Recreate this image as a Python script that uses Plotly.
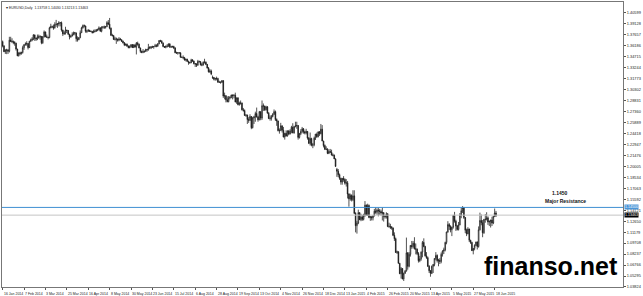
import plotly.graph_objects as go

# ---------------- data (EURUSD daily) ----------------
date_ticks = ["16 Jan 2014", "7 Feb 2014", "3 Mar 2014", "25 Mar 2014", "16 Apr 2014", "8 May 2014",
              "30 May 2014", "23 Jun 2014", "15 Jul 2014", "6 Aug 2014", "28 Aug 2014", "19 Sep 2014",
              "13 Oct 2014", "4 Nov 2014", "26 Nov 2014", "18 Dec 2014", "13 Jan 2015", "4 Feb 2015",
              "26 Feb 2015", "20 Mar 2015", "13 Apr 2015", "5 May 2015", "27 May 2015", "18 Jun 2015"]
date_tick_step = 16  # bars between date labels

price_ticks = [1.40599, 1.39128, 1.37657, 1.36186, 1.34715, 1.33244, 1.31773, 1.30302, 1.28831,
               1.27360, 1.25889, 1.24418, 1.22947, 1.21476, 1.20005, 1.18534, 1.17063, 1.15592,
               1.14121, 1.12650, 1.11179, 1.09708, 1.08237, 1.06766, 1.05295, 1.03824]

opens = [
    1.3675, 1.3615,
    1.3540, 1.3555, 1.3565, 1.3545, 1.3695,
    1.3680, 1.3675, 1.3665, 1.3655, 1.3575,
    1.3485, 1.3525, 1.3515, 1.3530, 1.3595,
    1.3635, 1.3645, 1.3650, 1.3595, 1.3680,
    1.3695, 1.3710, 1.3765, 1.3720, 1.3710,
    1.3740, 1.3735, 1.3745, 1.3660, 1.3740,
    1.3805, 1.3740, 1.3735, 1.3730, 1.3860,
    1.3875, 1.3875, 1.3860, 1.3905, 1.3910,
    1.3910, 1.3925, 1.3930, 1.3830, 1.3780,
    1.3790, 1.3830, 1.3825, 1.3775, 1.3740,
    1.3750, 1.3770, 1.3795, 1.3790, 1.3715,
    1.3700, 1.3730, 1.3795, 1.3860, 1.3890,
    1.3885, 1.3815, 1.3815, 1.3825, 1.3815,
    1.3810, 1.3795, 1.3810, 1.3815, 1.3830,
    1.3835, 1.3860, 1.3815, 1.3870, 1.3870,
    1.3870, 1.3875, 1.3930, 1.3910, 1.3855,
    1.3760, 1.3755, 1.3705, 1.3710, 1.3710,
    1.3695, 1.3710, 1.3700, 1.3680, 1.3660,
    1.3630, 1.3640, 1.3615, 1.3595, 1.3605,
    1.3635, 1.3595, 1.3630, 1.3600, 1.3655,
    1.3640, 1.3590, 1.3545, 1.3530, 1.3545,
    1.3545, 1.3570, 1.3565, 1.3595, 1.3590,
    1.3605, 1.3605, 1.3610, 1.3620, 1.3615,
    1.3645, 1.3690, 1.3680, 1.3655, 1.3610,
    1.3600, 1.3610, 1.3615, 1.3645, 1.3605,
    1.3605, 1.3610, 1.3590, 1.3525, 1.3525,
    1.3525, 1.3525, 1.3465, 1.3465, 1.3460,
    1.3430, 1.3440, 1.3410, 1.3395, 1.3390,
    1.3430, 1.3415, 1.3380, 1.3375, 1.3360,
    1.3410, 1.3405, 1.3365, 1.3360, 1.3400,
    1.3400, 1.3370, 1.3320, 1.3270, 1.3280,
    1.3190, 1.3195, 1.3170, 1.3180, 1.3180,
    1.3130, 1.3130, 1.3130, 1.3150, 1.2945,
    1.2950, 1.2895, 1.2870, 1.2920, 1.2925,
    1.2960, 1.2950, 1.2955, 1.2865, 1.2920,
    1.2830, 1.2850, 1.2850, 1.2760, 1.2750,
    1.2685, 1.2690, 1.2630, 1.2620, 1.2670,
    1.2520, 1.2650, 1.2665, 1.2710, 1.2665,
    1.2625, 1.2735, 1.2650, 1.2815, 1.2810,
    1.2760, 1.2800, 1.2715, 1.2645, 1.2645,
    1.2670, 1.2700, 1.2735, 1.2630, 1.2610,
    1.2480, 1.2480, 1.2545, 1.2485, 1.2395,
    1.2445, 1.2410, 1.2475, 1.2435, 1.2475,
    1.2525, 1.2450, 1.2535, 1.2545, 1.2550,
    1.2390, 1.2440, 1.2470, 1.2505, 1.2465,
    1.2450, 1.2470, 1.2380, 1.2310, 1.2375,
    1.2285, 1.2290, 1.2380, 1.2435, 1.2400,
    1.2465, 1.2440, 1.2500, 1.2340, 1.2280,
    1.2230, 1.2230, 1.2175, 1.2200,
    1.2190, 1.2155, 1.2150, 1.2100,
    1.1960, 1.1935, 1.1890, 1.1840, 1.1790,
    1.1840, 1.1825, 1.1775, 1.1780, 1.1630,
    1.1565, 1.1610, 1.1555, 1.1605, 1.1370,
    1.1205, 1.1240, 1.1380, 1.1285, 1.1320,
    1.1290, 1.1345, 1.1480, 1.1345, 1.1475,
    1.1315, 1.1325, 1.1310, 1.1335, 1.1400,
    1.1385, 1.1415, 1.1405, 1.1395, 1.1375,
    1.1380, 1.1330, 1.1325, 1.1365, 1.1195,
    1.1195, 1.1185, 1.1175, 1.1075, 1.1030,
    1.0845, 1.0855, 1.0700, 1.0560, 1.0630,
    1.0490, 1.0565, 1.0595, 1.0840, 1.0660,
    1.0820, 1.0940, 1.0925, 1.0970, 1.0895,
    1.0890, 1.0830, 1.0735, 1.0760, 1.0850,
    1.0980, 1.0925, 1.0800, 1.0775, 1.0660,
    1.0600, 1.0565, 1.0660, 1.0685, 1.0765,
    1.0805, 1.0735, 1.0740, 1.0725, 1.0820,
    1.0865, 1.0880, 1.0980, 1.1120, 1.1220,
    1.1195, 1.1150, 1.1185, 1.1345, 1.1265,
    1.1200, 1.1155, 1.1215, 1.1345, 1.1405,
    1.1450, 1.1315, 1.1145, 1.1095, 1.1160,
    1.1010, 1.0980, 1.0870, 1.0900, 1.0940,
    1.0985, 1.0925, 1.1150, 1.1275, 1.1245,
    1.1110, 1.1290, 1.1290, 1.1310, 1.1255,
    1.1260, 1.1280, 1.1240, 1.1330, 1.1376,
]

highs = [
    1.3690, 1.3630,
    1.3575, 1.3580, 1.3570, 1.3740, 1.3740,
    1.3720, 1.3690, 1.3680, 1.3660, 1.3580,
    1.3530, 1.3540, 1.3540, 1.3620, 1.3640,
    1.3665, 1.3680, 1.3655, 1.3685, 1.3715,
    1.3735, 1.3775, 1.3770, 1.3730, 1.3770,
    1.3770, 1.3760, 1.3750, 1.3750, 1.3825,
    1.3810, 1.3770, 1.3740, 1.3875, 1.3915,
    1.3890, 1.3905, 1.3935, 1.3967, 1.3925,
    1.3950, 1.3935, 1.3945, 1.3835, 1.3815,
    1.3875, 1.3835, 1.3830, 1.3780, 1.3760,
    1.3800, 1.3810, 1.3805, 1.3800, 1.3745,
    1.3735, 1.3825, 1.3875, 1.3905, 1.3905,
    1.3890, 1.3835, 1.3845, 1.3835, 1.3825,
    1.3820, 1.3835, 1.3840, 1.3845, 1.3850,
    1.3880, 1.3865, 1.3880, 1.3885, 1.3890,
    1.3885, 1.3950, 1.3965, 1.3993, 1.3865,
    1.3780, 1.3765, 1.3740, 1.3730, 1.3715,
    1.3735, 1.3725, 1.3705, 1.3690, 1.3670,
    1.3650, 1.3650, 1.3625, 1.3625, 1.3640,
    1.3640, 1.3640, 1.3645, 1.3670, 1.3675,
    1.3650, 1.3595, 1.3555, 1.3575, 1.3555,
    1.3580, 1.3575, 1.3645, 1.3615, 1.3615,
    1.3620, 1.3615, 1.3645, 1.3640, 1.3655,
    1.3695, 1.3700, 1.3695, 1.3665, 1.3615,
    1.3625, 1.3640, 1.3650, 1.3650, 1.3620,
    1.3620, 1.3620, 1.3600, 1.3540, 1.3535,
    1.3535, 1.3530, 1.3475, 1.3490, 1.3470,
    1.3445, 1.3445, 1.3420, 1.3405, 1.3445,
    1.3440, 1.3420, 1.3385, 1.3385, 1.3430,
    1.3420, 1.3415, 1.3390, 1.3410, 1.3445,
    1.3410, 1.3375, 1.3335, 1.3305, 1.3300,
    1.3220, 1.3200, 1.3190, 1.3205, 1.3190,
    1.3150, 1.3140, 1.3160, 1.3160, 1.2990,
    1.2955, 1.2940, 1.2945, 1.2945, 1.2955,
    1.2965, 1.2970, 1.2990, 1.2925, 1.2930,
    1.2870, 1.2885, 1.2860, 1.2785, 1.2765,
    1.2700, 1.2695, 1.2660, 1.2700, 1.2675,
    1.2665, 1.2680, 1.2735, 1.2790, 1.2680,
    1.2745, 1.2740, 1.2885, 1.2845, 1.2815,
    1.2815, 1.2810, 1.2730, 1.2685, 1.2690,
    1.2715, 1.2765, 1.2750, 1.2645, 1.2615,
    1.2510, 1.2585, 1.2550, 1.2530, 1.2450,
    1.2485, 1.2485, 1.2490, 1.2500, 1.2545,
    1.2580, 1.2545, 1.2600, 1.2600, 1.2555,
    1.2450, 1.2500, 1.2530, 1.2515, 1.2480,
    1.2505, 1.2475, 1.2395, 1.2455, 1.2385,
    1.2315, 1.2400, 1.2435, 1.2455, 1.2460,
    1.2475, 1.2570, 1.2555, 1.2345, 1.2295,
    1.2270, 1.2245, 1.2230, 1.2235,
    1.2225, 1.2175, 1.2160, 1.2110,
    1.1980, 1.1965, 1.1905, 1.1850, 1.1845,
    1.1870, 1.1840, 1.1830, 1.1805, 1.1640,
    1.1635, 1.1625, 1.1680, 1.1680, 1.1385,
    1.1270, 1.1420, 1.1385, 1.1365, 1.1350,
    1.1365, 1.1535, 1.1490, 1.1500, 1.1490,
    1.1330, 1.1330, 1.1345, 1.1430, 1.1450,
    1.1435, 1.1445, 1.1430, 1.1420, 1.1450,
    1.1385, 1.1345, 1.1385, 1.1370, 1.1245,
    1.1230, 1.1200, 1.1180, 1.1115, 1.1045,
    1.0870, 1.0860, 1.0705, 1.0650, 1.0635,
    1.0575, 1.0610, 1.1045, 1.0850, 1.0850,
    1.0945, 1.1000, 1.1000, 1.1050, 1.0965,
    1.0900, 1.0850, 1.0800, 1.0860, 1.1000,
    1.1035, 1.0935, 1.0850, 1.0790, 1.0675,
    1.0610, 1.0670, 1.0690, 1.0770, 1.0850,
    1.0820, 1.0760, 1.0770, 1.0845, 1.0875,
    1.0910, 1.0990, 1.1125, 1.1265, 1.1240,
    1.1210, 1.1190, 1.1345, 1.1390, 1.1285,
    1.1215, 1.1255, 1.1375, 1.1445, 1.1467,
    1.1455, 1.1320, 1.1165, 1.1185, 1.1165,
    1.1015, 1.0990, 1.0905, 1.0955, 1.0990,
    1.0995, 1.1195, 1.1380, 1.1355, 1.1280,
    1.1295, 1.1360, 1.1385, 1.1330, 1.1275,
    1.1285, 1.1325, 1.1335, 1.1435, 1.1403,
]

lows = [
    1.3598, 1.3535,
    1.3510, 1.3507, 1.3510, 1.3530, 1.3670,
    1.3655, 1.3640, 1.3620, 1.3555, 1.3480,
    1.3475, 1.3490, 1.3500, 1.3515, 1.3565,
    1.3620, 1.3620, 1.3570, 1.3590, 1.3670,
    1.3680, 1.3695, 1.3685, 1.3685, 1.3695,
    1.3715, 1.3700, 1.3640, 1.3645, 1.3730,
    1.3735, 1.3725, 1.3705, 1.3720, 1.3855,
    1.3855, 1.3835, 1.3850, 1.3875, 1.3860,
    1.3880, 1.3880, 1.3810, 1.3750, 1.3765,
    1.3770, 1.3790, 1.3765, 1.3705, 1.3725,
    1.3745, 1.3760, 1.3760, 1.3675, 1.3675,
    1.3695, 1.3720, 1.3790, 1.3850, 1.3865,
    1.3795, 1.3790, 1.3805, 1.3805, 1.3805,
    1.3785, 1.3790, 1.3800, 1.3805, 1.3815,
    1.3825, 1.3810, 1.3800, 1.3850, 1.3845,
    1.3850, 1.3870, 1.3900, 1.3840, 1.3750,
    1.3745, 1.3700, 1.3690, 1.3645, 1.3675,
    1.3680, 1.3695, 1.3670, 1.3650, 1.3615,
    1.3620, 1.3605, 1.3585, 1.3585, 1.3595,
    1.3590, 1.3590, 1.3600, 1.3503, 1.3620,
    1.3585, 1.3525, 1.3520, 1.3520, 1.3525,
    1.3535, 1.3540, 1.3555, 1.3580, 1.3575,
    1.3590, 1.3580, 1.3600, 1.3600, 1.3605,
    1.3640, 1.3670, 1.3650, 1.3600, 1.3590,
    1.3585, 1.3595, 1.3605, 1.3590, 1.3590,
    1.3595, 1.3575, 1.3520, 1.3510, 1.3500,
    1.3510, 1.3460, 1.3455, 1.3440, 1.3420,
    1.3410, 1.3405, 1.3365, 1.3380, 1.3390,
    1.3405, 1.3370, 1.3335, 1.3335, 1.3350,
    1.3395, 1.3355, 1.3345, 1.3355, 1.3380,
    1.3360, 1.3315, 1.3260, 1.3255, 1.3225,
    1.3175, 1.3155, 1.3150, 1.3155, 1.3125,
    1.3120, 1.3110, 1.3120, 1.2920, 1.2900,
    1.2860, 1.2860, 1.2860, 1.2900, 1.2915,
    1.2900, 1.2915, 1.2860, 1.2840, 1.2820,
    1.2815, 1.2830, 1.2750, 1.2735, 1.2680,
    1.2665, 1.2570, 1.2585, 1.2610, 1.2500,
    1.2510, 1.2570, 1.2600, 1.2655, 1.2600,
    1.2620, 1.2620, 1.2625, 1.2745, 1.2745,
    1.2750, 1.2710, 1.2635, 1.2615, 1.2615,
    1.2660, 1.2690, 1.2610, 1.2545, 1.2470,
    1.2440, 1.2480, 1.2455, 1.2390, 1.2360,
    1.2400, 1.2400, 1.2420, 1.2430, 1.2445,
    1.2445, 1.2440, 1.2525, 1.2505, 1.2360,
    1.2375, 1.2420, 1.2445, 1.2440, 1.2430,
    1.2430, 1.2360, 1.2300, 1.2280, 1.2270,
    1.2245, 1.2270, 1.2355, 1.2385, 1.2390,
    1.2410, 1.2430, 1.2340, 1.2255, 1.2220,
    1.2220, 1.2165, 1.2165, 1.2185,
    1.2145, 1.2135, 1.2100, 1.1995,
    1.1860, 1.1855, 1.1820, 1.1755, 1.1755,
    1.1795, 1.1755, 1.1730, 1.1570, 1.1460,
    1.1540, 1.1530, 1.1535, 1.1360, 1.1115,
    1.1098, 1.1225, 1.1280, 1.1265, 1.1270,
    1.1275, 1.1325, 1.1345, 1.1335, 1.1305,
    1.1270, 1.1275, 1.1275, 1.1330, 1.1365,
    1.1350, 1.1330, 1.1350, 1.1340, 1.1275,
    1.1260, 1.1300, 1.1300, 1.1185, 1.1175,
    1.1160, 1.1150, 1.1065, 1.1000, 1.0840,
    1.0825, 1.0695, 1.0555, 1.0495, 1.0485,
    1.0462, 1.0560, 1.0590, 1.0615, 1.0645,
    1.0790, 1.0895, 1.0900, 1.0885, 1.0820,
    1.0810, 1.0710, 1.0715, 1.0735, 1.0780,
    1.0915, 1.0790, 1.0760, 1.0650, 1.0570,
    1.0520, 1.0555, 1.0570, 1.0660, 1.0740,
    1.0710, 1.0660, 1.0690, 1.0700, 1.0790,
    1.0825, 1.0860, 1.0955, 1.1110, 1.1145,
    1.1115, 1.1065, 1.1165, 1.1245, 1.1135,
    1.1140, 1.1140, 1.1210, 1.1305, 1.1375,
    1.1295, 1.1105, 1.1065, 1.1090, 1.0985,
    1.0960, 1.0865, 1.0820, 1.0875, 1.0930,
    1.0885, 1.0910, 1.1140, 1.1210, 1.1050,
    1.1095, 1.1245, 1.1275, 1.1215, 1.1200,
    1.1180, 1.1200, 1.1225, 1.1320, 1.1321,
]

closes = [
    1.3615, 1.3540,
    1.3555, 1.3565, 1.3545, 1.3695, 1.3680,
    1.3675, 1.3665, 1.3655, 1.3575, 1.3485,
    1.3525, 1.3515, 1.3530, 1.3595, 1.3635,
    1.3645, 1.3650, 1.3595, 1.3680, 1.3695,
    1.3710, 1.3765, 1.3720, 1.3710, 1.3740,
    1.3735, 1.3745, 1.3660, 1.3740, 1.3805,
    1.3740, 1.3735, 1.3730, 1.3860, 1.3875,
    1.3875, 1.3860, 1.3905, 1.3910, 1.3910,
    1.3925, 1.3930, 1.3830, 1.3780, 1.3790,
    1.3830, 1.3825, 1.3775, 1.3740, 1.3750,
    1.3770, 1.3795, 1.3790, 1.3715, 1.3700,
    1.3730, 1.3795, 1.3860, 1.3890, 1.3885,
    1.3815, 1.3815, 1.3825, 1.3815, 1.3810,
    1.3795, 1.3810, 1.3815, 1.3830, 1.3835,
    1.3860, 1.3815, 1.3870, 1.3870, 1.3870,
    1.3875, 1.3930, 1.3910, 1.3855, 1.3760,
    1.3755, 1.3705, 1.3710, 1.3710, 1.3695,
    1.3710, 1.3700, 1.3680, 1.3660, 1.3630,
    1.3640, 1.3615, 1.3595, 1.3605, 1.3635,
    1.3595, 1.3630, 1.3600, 1.3655, 1.3640,
    1.3590, 1.3545, 1.3530, 1.3545, 1.3545,
    1.3570, 1.3565, 1.3595, 1.3590, 1.3605,
    1.3605, 1.3610, 1.3620, 1.3615, 1.3645,
    1.3690, 1.3680, 1.3655, 1.3610, 1.3600,
    1.3610, 1.3615, 1.3645, 1.3605, 1.3605,
    1.3610, 1.3590, 1.3525, 1.3525, 1.3525,
    1.3525, 1.3465, 1.3465, 1.3460, 1.3430,
    1.3440, 1.3410, 1.3395, 1.3390, 1.3430,
    1.3415, 1.3380, 1.3375, 1.3360, 1.3410,
    1.3405, 1.3365, 1.3360, 1.3400, 1.3400,
    1.3370, 1.3320, 1.3270, 1.3280, 1.3240,
    1.3195, 1.3170, 1.3180, 1.3180, 1.3130,
    1.3130, 1.3130, 1.3150, 1.2945, 1.2950,
    1.2895, 1.2870, 1.2920, 1.2925, 1.2960,
    1.2950, 1.2955, 1.2865, 1.2920, 1.2830,
    1.2850, 1.2850, 1.2760, 1.2750, 1.2685,
    1.2690, 1.2630, 1.2620, 1.2670, 1.2520,
    1.2650, 1.2665, 1.2710, 1.2665, 1.2625,
    1.2735, 1.2650, 1.2815, 1.2810, 1.2760,
    1.2800, 1.2715, 1.2645, 1.2645, 1.2670,
    1.2700, 1.2735, 1.2630, 1.2610, 1.2480,
    1.2480, 1.2545, 1.2485, 1.2395, 1.2445,
    1.2410, 1.2475, 1.2435, 1.2475, 1.2525,
    1.2450, 1.2535, 1.2545, 1.2550, 1.2390,
    1.2440, 1.2470, 1.2505, 1.2465, 1.2450,
    1.2470, 1.2380, 1.2310, 1.2375, 1.2285,
    1.2290, 1.2380, 1.2435, 1.2400, 1.2465,
    1.2440, 1.2500, 1.2340, 1.2280, 1.2230,
    1.2230, 1.2175, 1.2200, 1.2190,
    1.2155, 1.2150, 1.2100, 1.2000,
    1.1935, 1.1890, 1.1840, 1.1790, 1.1840,
    1.1825, 1.1775, 1.1780, 1.1630, 1.1565,
    1.1610, 1.1555, 1.1605, 1.1370, 1.1205,
    1.1240, 1.1380, 1.1285, 1.1320, 1.1290,
    1.1345, 1.1480, 1.1345, 1.1475, 1.1315,
    1.1325, 1.1310, 1.1335, 1.1400, 1.1385,
    1.1415, 1.1405, 1.1395, 1.1375, 1.1380,
    1.1330, 1.1325, 1.1365, 1.1195, 1.1195,
    1.1185, 1.1175, 1.1075, 1.1030, 1.0845,
    1.0855, 1.0700, 1.0560, 1.0630, 1.0490,
    1.0565, 1.0595, 1.0840, 1.0660, 1.0820,
    1.0940, 1.0925, 1.0970, 1.0895, 1.0890,
    1.0830, 1.0735, 1.0760, 1.0850, 1.0980,
    1.0925, 1.0800, 1.0775, 1.0660, 1.0600,
    1.0565, 1.0660, 1.0685, 1.0765, 1.0805,
    1.0735, 1.0740, 1.0725, 1.0820, 1.0865,
    1.0880, 1.0980, 1.1120, 1.1220, 1.1195,
    1.1150, 1.1185, 1.1345, 1.1265, 1.1200,
    1.1155, 1.1215, 1.1345, 1.1405, 1.1450,
    1.1315, 1.1145, 1.1095, 1.1160, 1.1010,
    1.0980, 1.0870, 1.0900, 1.0940, 1.0985,
    1.0925, 1.1150, 1.1275, 1.1245, 1.1110,
    1.1290, 1.1290, 1.1310, 1.1255, 1.1260,
    1.1280, 1.1240, 1.1330, 1.1375, 1.1346,
]

resistance_level = 1.1450
resistance_axis_label = "1.14500"
bid_level = 1.13463
bid_axis_label = "1.13463"
header_text = "▾ EURUSD,Daily  1.13758 1.14030 1.13213 1.13463"
note_price = "1.1450"
note_text = "Major Resistance"
watermark = "finanso.net"

# ---------------- figure ----------------
bars = list(range(len(closes)))
tick_pos = [i * date_tick_step for i in range(len(date_ticks))]

fig = go.Figure()
fig.add_trace(go.Candlestick(
    x=bars, open=opens, high=highs, low=lows, close=closes,
    increasing=dict(line=dict(color="#1a1a1a", width=0.75), fillcolor="white"),
    decreasing=dict(line=dict(color="#1a1a1a", width=0.75), fillcolor="black"),
    whiskerwidth=0, hoverinfo="skip", showlegend=False,
))

# bid line (grey) and resistance line (blue)
fig.add_hline(y=bid_level, line=dict(color="#c4c4c4", width=1))
fig.add_hline(y=resistance_level, line=dict(color="#3f8fd2", width=1))

axis_font = dict(family="Liberation Sans, Arial, sans-serif", size=3.9, color="#222")
date_font = dict(family="Liberation Sans, Arial, sans-serif", size=3.5, color="#222")

fig.update_xaxes(
    range=[-0.5, 464], tickvals=tick_pos, ticktext=[""] * len(tick_pos),
    ticks="outside", ticklen=2, tickcolor="#555", showgrid=False, zeroline=False,
    showline=True, linecolor="#777", linewidth=1, mirror=True,
    rangeslider=dict(visible=False), fixedrange=True,
)
fig.update_yaxes(
    range=[1.03818, 1.42070], side="right", tickvals=price_ticks,
    ticktext=[f"{v:.5f}" for v in price_ticks], tickfont=axis_font,
    ticks="outside", ticklen=2, tickcolor="#555", showgrid=False, zeroline=False,
    showline=True, linecolor="#777", linewidth=1, mirror=True, fixedrange=True,
)

annotations = []
for pos, lab in zip(tick_pos, date_ticks):
    annotations.append(dict(x=pos, y=0, xref="x", yref="paper", text=lab, showarrow=False,
                            xanchor="left", yanchor="top", yshift=-2.5, xshift=-1, font=date_font))
# price boxes on the axis
annotations.append(dict(x=1, y=resistance_level, xref="paper", yref="y", text=resistance_axis_label,
                        showarrow=False, xanchor="left", yanchor="middle", xshift=1, yshift=0.5,
                        bgcolor="#4a95d8", font=dict(family="Liberation Sans", size=3.6, color="white"),
                        borderpad=0))
annotations.append(dict(x=1, y=bid_level, xref="paper", yref="y", text=bid_axis_label,
                        showarrow=False, xanchor="left", yanchor="middle", xshift=1,
                        bgcolor="black", font=dict(family="Liberation Sans", size=3.6, color="white"),
                        borderpad=0))
# header
annotations.append(dict(x=0, y=1, xref="paper", yref="paper", text=header_text, showarrow=False,
                        xanchor="left", yanchor="top", xshift=2, yshift=-1.5, font=date_font))
# resistance note
annotations.append(dict(x=417, y=1.1640, xref="x", yref="y", text=f"<b>{note_price}</b>", showarrow=False,
                        xanchor="center", yanchor="middle",
                        font=dict(family="Liberation Sans", size=5, color="#111")))
annotations.append(dict(x=421, y=1.1532, xref="x", yref="y", text=f"<b>{note_text}</b>", showarrow=False,
                        xanchor="center", yanchor="middle",
                        font=dict(family="Liberation Sans", size=5, color="#111")))
# watermark
annotations.append(dict(x=0.884, y=0.075, xref="paper", yref="paper", text=f"<b>{watermark}</b>",
                        showarrow=False, xanchor="center", yanchor="middle",
                        font=dict(family="Liberation Sans", size=25, color="black")))

fig.update_layout(
    width=643, height=296, margin=dict(l=1, r=17, t=1, b=9),
    paper_bgcolor="white", plot_bgcolor="white", annotations=annotations,
)

fig.write_html("out.html")
